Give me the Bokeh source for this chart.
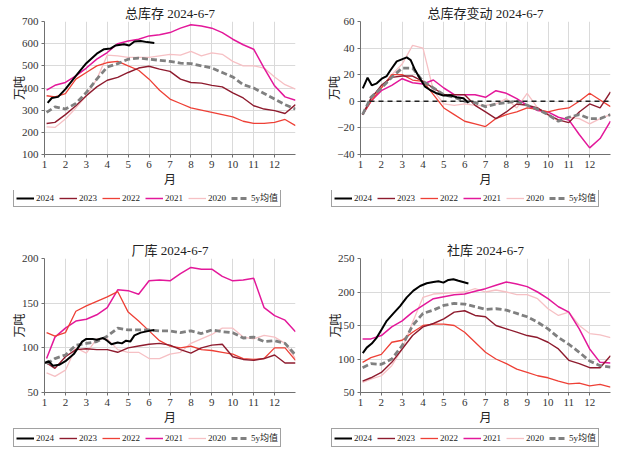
from bokeh.plotting import figure
from bokeh.layouts import column, row
from bokeh.models import Range1d, FixedTicker, Legend, LegendItem, Span
from bokeh.embed import file_html
from bokeh.resources import INLINE

# ---------------- data ----------------
X = [1.1, 1.5, 2.0, 2.5, 3.0, 3.5, 4.0, 4.5, 5.0, 5.5, 6.0, 6.5, 7.0,
     7.5, 8.0, 8.5, 9.0, 9.5, 10.0, 10.5, 11.0, 11.5, 12.0, 12.5, 13.0]
MONTH_TICKS = [1, 2, 3, 4, 5, 6, 7, 8, 9, 10, 11, 12]
MONTH_GRID = [1, 2, 3, 4, 5, 6, 7, 8, 9, 10, 11, 12, 13]
LABELS = ["2024", "2023", "2022", "2021", "2020", "5y均值"]

# 总库存
tot_x24 = [1.15, 1.35, 1.65, 2.0, 2.5, 3.0, 3.5, 3.85, 4.15, 4.4, 4.8, 5.05, 5.3, 5.6, 5.9, 6.25]
tot_y24 = [333, 355, 360, 395, 455, 512, 555, 575, 578, 592, 597, 592, 610, 612, 607, 603]
tot_y23 = [240, 245, 280, 320, 365, 405, 435, 448, 470, 490, 498, 485, 475, 440, 425, 422, 412, 405, 378, 355, 320, 305, 298, 285, 325]
tot_y22 = [365, 360, 375, 440, 470, 500, 515, 520, 500, 480, 440, 390, 350, 330, 310, 300, 290, 280, 270, 250, 240, 240, 245, 258, 230]
tot_y21 = [390, 412, 425, 455, 490, 530, 560, 600, 612, 620, 635, 640, 650, 670, 685, 680, 670, 650, 620, 595, 575, 490, 410, 360, 345]
tot_y20 = [225, 222, 260, 310, 365, 440, 548, 545, 538, 538, 538, 545, 552, 548, 565, 545, 558, 552, 520, 500, 500, 490, 450, 415, 395]
tot_y5 = [290, 315, 305, 330, 380, 440, 495, 510, 530, 535, 530, 525, 520, 512, 510, 500, 490, 470, 450, 415, 400, 375, 350, 325, 305]
tot_ticks = [100, 200, 300, 400, 500, 600, 700]

# 总库存变动
chg_x24 = [1.11, 1.34, 1.54, 1.78, 2.02, 2.26, 2.42, 2.74, 2.98, 3.22, 3.41, 3.62, 3.86, 4.10, 4.34, 4.66, 4.98, 5.30, 5.62, 5.94, 6.18]
chg_y24 = [9.75, 17.75, 12, 13.5, 17, 19, 23, 30, 31.5, 33, 31, 23.5, 17, 11, 8.5, 6, 4.3, 4.5, 3, 2.3, -1]
chg_y23 = [-10, 2, 12, 18, 19, 19, 15, 10, 5, 5, 5, -3, -8, -13, -8, -2, -3, -5, -10, -14, -16, -8, -2, -5, 7]
chg_y22 = [-10, 0, 10, 20, 20, 16, 15, 5, -5, -10, -15, -17, -19, -13, -10, -8, -5, -6, -8, -6, -5, 0, 6, 1, -4]
chg_y21 = [-10, 0, 8, 12, 17, 14, 13, 16, 10, 5, 5, 5, 3, 8, 6, 2, -3, -7, -8, -12, -14, -25, -35, -28, -15]
chg_y20 = [-10, 3, 10, 20, 28, 42, 40, 8, -2, -3, -2, -3, -3, -2, 2, -5, 6, -5, -10, -15, -12, -13, -17, -13, -10]
chg_y5 = [-10, 3, 10, 18, 25, 25, 15, 10, 5, 3, 0, -1, -4, -2, -1, 0, -3, -6, -10, -15, -12, -10, -13, -13, -10]
chg_ticks = [-40, -20, 0, 20, 40, 60]
chg_zero = 0

# 厂库
fac_x24 = [1.0, 1.2, 1.4, 1.7, 2.0, 2.4, 2.8, 3.0, 3.3, 3.5, 3.8, 4.0, 4.2, 4.5, 4.7, 4.9, 5.1, 5.3, 5.6, 6.0, 6.25]
fac_y24 = [83, 85, 80, 81, 85, 93, 107, 110, 110, 109, 111, 108, 104, 106, 105, 108, 107, 114, 117, 119, 120]
fac_y23 = [83, 77, 90, 98, 99, 98, 98, 95, 100, 102, 104, 105, 103, 98, 94, 100, 103, 104, 90, 87, 86, 88, 92, 83, 83]
fac_y22 = [117, 113, 117, 141, 147, 152, 157, 163, 140, 130, 119, 108, 102, 100, 102, 98, 97, 95, 93, 88, 87, 88, 100, 100, 86]
fac_y21 = [88, 112, 122, 130, 132, 137, 145, 165, 164, 160, 175, 176, 175, 183, 190, 188, 188, 180, 175, 176, 178, 145, 136, 131, 118]
fac_y20 = [72, 68, 75, 100, 94, 110, 110, 98, 95, 95, 88, 88, 93, 95, 105, 110, 115, 122, 122, 112, 110, 114, 112, 105, 88]
fac_y5 = [82, 88, 92, 103, 105, 107, 113, 122, 120, 120, 120, 119, 119, 117, 119, 116, 120, 118, 117, 111, 112, 107, 108, 105, 92]
fac_ticks = [50, 100, 150, 200]

# 社库
soc_x24 = [1.11, 1.30, 1.54, 1.78, 2.02, 2.26, 2.58, 2.90, 3.22, 3.54, 3.86, 4.18, 4.50, 4.74, 4.98, 5.22, 5.46, 5.70, 6.18]
soc_y24 = [108.7, 117, 123, 132, 144.5, 157, 168, 179, 192, 202, 209, 213, 215, 216, 214, 218, 219, 216.7, 212.7]
soc_y23 = [67, 72, 80, 95, 115, 135, 148, 153, 160, 170, 172, 165, 163, 150, 145, 140, 135, 132, 125, 115, 98, 93, 87, 87, 105]
soc_y22 = [95, 102, 107, 125, 128, 140, 150, 152, 152, 150, 140, 125, 110, 100, 93, 85, 80, 75, 72, 67, 63, 64, 60, 62, 58]
soc_y21 = [130, 130, 135, 148, 157, 170, 180, 190, 193, 196, 197, 201, 205, 210, 215, 212, 208, 200, 190, 178, 170, 145, 115, 95, 94]
soc_y20 = [65, 70, 75, 90, 115, 155, 192, 197, 198, 199, 200, 205, 200, 203, 200, 196, 196, 190, 175, 165, 170, 150, 138, 136, 132]
soc_y5 = [87, 93, 92, 100, 120, 150, 168, 173, 180, 183, 182, 178, 174, 175, 173, 168, 163, 155, 145, 132, 122, 110, 97, 90, 88]
soc_ticks = [50, 100, 150, 200, 250]

# ---------------- style ----------------
SERIF = "Liberation Serif, Noto Sans CJK SC"
COLORS = {"2023": "#8E1B2E", "2022": "#EE4036", "2021": "#E3189A", "2020": "#F6C0C4", "5y": "#808080", "2024": "#000000"}
WIDTHS = {"2023": 1.4, "2022": 1.3, "2021": 1.5, "2020": 1.3, "5y": 2.8, "2024": 2}
DASH = {"5y": "6 3"}
GRID = "#DADADA"


def line_kw(key):
    return dict(line_color=COLORS[key], line_width=WIDTHS[key], line_dash=DASH.get(key, "solid"))


def panel(title, ticks, x24, y24, y23, y22, y21, y20, y5, width, height, left, top, zero=None):
    p = figure(width=width, height=height, output_backend="svg", toolbar_location=None,
               x_range=Range1d(1, 13), y_range=Range1d(ticks[0], ticks[-1]),
               min_border_left=left, min_border_right=15,
               min_border_top=top, min_border_bottom=36, title=title)
    p.frame_align = False
    p.title.align = "center"
    p.title.standoff = 2
    p.title.text_font = SERIF
    p.title.text_font_size = "13px"
    p.title.text_font_style = "normal"
    p.title.text_color = "#222222"
    p.outline_line_color = None
    p.background_fill_color = "white"
    p.border_fill_color = "white"

    p.xaxis.ticker = FixedTicker(ticks=MONTH_TICKS)
    p.xgrid.ticker = FixedTicker(ticks=MONTH_GRID)
    p.yaxis.ticker = FixedTicker(ticks=ticks)
    p.ygrid.ticker = FixedTicker(ticks=ticks)
    p.xgrid.grid_line_color = GRID
    p.ygrid.grid_line_color = GRID
    for ax in (p.xaxis[0], p.yaxis[0]):
        ax.axis_line_color = "#707070"
        ax.major_tick_line_color = "#707070"
        ax.major_tick_out = 3
        ax.major_tick_in = 0
        ax.minor_tick_line_color = None
        ax.major_label_text_font = SERIF
        ax.major_label_text_font_size = "11px"
        ax.major_label_text_color = "#333333"
        ax.axis_label_text_font = SERIF
        ax.axis_label_text_font_size = "12px"
        ax.axis_label_text_font_style = "normal"
        ax.axis_label_text_color = "#222222"
        ax.major_label_standoff = 3
    p.xaxis.axis_label_standoff = 2
    p.yaxis.axis_label_standoff = -8
    p.xaxis.axis_label = "月"
    p.yaxis.axis_label = "万吨"

    if zero is not None:
        p.add_layout(Span(location=zero, dimension="width", line_color="#222222",
                          line_width=1.5, line_dash="5 4"))

    p.line(X, y20, **line_kw("2020"))
    p.line(X, y21, **line_kw("2021"))
    p.line(X, y22, **line_kw("2022"))
    p.line(X, y23, **line_kw("2023"))
    p.line(X, y5, **line_kw("5y"))
    p.line(x24, y24, **line_kw("2024"))
    return p


def legend_fig(width, height, lx, ly):
    q = figure(width=width, height=height, output_backend="svg", toolbar_location=None,
               x_range=Range1d(0, 1), y_range=Range1d(0, 1), x_axis_type=None, y_axis_type=None,
               min_border=0, min_border_left=0, min_border_right=0, min_border_top=0, min_border_bottom=0)
    q.frame_align = False
    q.outline_line_color = None
    q.background_fill_color = "white"
    q.border_fill_color = "white"
    keys = ["2024", "2023", "2022", "2021", "2020", "5y"]
    # off-range placeholder points: only the legend swatches are visible
    rends = [q.line([-5, -4], [-5, -5], **line_kw(k)) for k in keys]
    items = [LegendItem(label=lab, renderers=[r]) for lab, r in zip(LABELS, rends)]
    leg = Legend(items=items, orientation="horizontal", location=(lx, ly))
    leg.border_line_color = "#444444"
    leg.border_line_width = 1
    leg.background_fill_color = "white"
    leg.background_fill_alpha = 1
    leg.label_text_font = SERIF
    leg.label_text_font_size = "9px"
    leg.label_text_color = "#222222"
    leg.glyph_width = 18
    leg.glyph_height = 10
    leg.label_standoff = 2
    leg.spacing = 3
    leg.padding = 2
    leg.margin = 0
    leg.label_height = 10
    q.add_layout(leg)
    return q


p1 = panel("总库存 2024-6-7", tot_ticks, tot_x24, tot_y24, tot_y23, tot_y22, tot_y21, tot_y20, tot_y5,
           310, 190, 44, 21)
p2 = panel("总库存变动 2024-6-7", chg_ticks, chg_x24, chg_y24, chg_y23, chg_y22, chg_y21, chg_y20, chg_y5,
           315, 190, 50, 21, zero=chg_zero)
p3 = panel("厂库 2024-6-7", fac_ticks, fac_x24, fac_y24, fac_y23, fac_y22, fac_y21, fac_y20, fac_y5,
           310, 206, 44, 36)
p4 = panel("社库 2024-6-7", soc_ticks, soc_x24, soc_y24, soc_y23, soc_y22, soc_y21, soc_y20, soc_y5,
           315, 206, 50, 36)

l1 = legend_fig(310, 32, 13, 15)
l2 = legend_fig(315, 32, 21, 15)
l3 = legend_fig(310, 24, 13, 5)
l4 = legend_fig(315, 24, 21, 5)

layout = column(row(column(p1, l1), column(p2, l2)), row(column(p3, l3), column(p4, l4)))
open("out.html", "w").write(file_html(layout, INLINE))
